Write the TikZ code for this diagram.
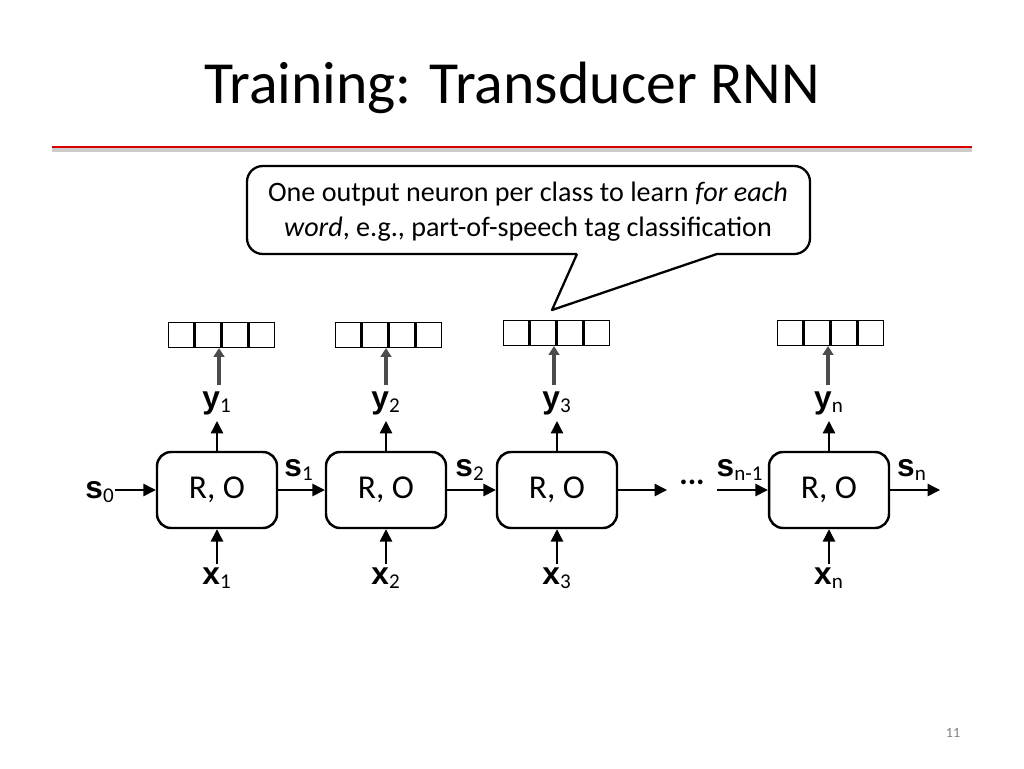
\documentclass[tikz,border=0pt]{standalone}
\usepackage{fontspec}
\setmainfont{Carlito}
\newfontfamily\labfont{Liberation Sans}
\usetikzlibrary{positioning,arrows.meta}

\tikzset{
  cell/.style={draw,line width=1.4pt,rounded corners=8pt,minimum width=2.4cm,minimum height=1.52cm,font=\fontsize{19}{22}\selectfont},
  vec/.style={draw,line width=0.8pt,minimum width=0.51cm,minimum height=0.5cm,inner sep=0pt},
  lab/.style={font=\labfont\bfseries\fontsize{18}{20}\selectfont,inner sep=1pt},
  arr/.style={-{Triangle[length=7pt,width=7pt]},line width=0.8pt},
  thickarr/.style={-{Triangle[length=5pt,width=6pt]},line width=2.2pt,gray!60!black}
}
\newcommand{\sub}[1]{\textsubscript{\normalfont\fontsize{12}{13}\selectfont #1}}

\begin{document}
\begin{tikzpicture}[x=0.02cm,y=-0.02cm]
	\useasboundingbox (0,0) rectangle (1024,768);
	
	%title
	\node (title) at (512,88) {\fontsize{34}{40}\selectfont Training: Transducer RNN};
	\draw[gray!40,line width=2pt] (52,150)--(972,150);
	\draw[red!85!black,line width=1.5pt] (52,147)--(972,147);
	
	%callout
	\draw[line width=1.3pt,line join=round] (577,254)--(552,310)--(717,254)
		[rounded corners=9pt]--(810,254)--(810,166)--(247,166)--(247,254)--(577,254);
	\node[align=center,font=\fontsize{16}{20}\selectfont] (callout) at (528,212) {One output neuron per class to learn \textit{for each}\\\textit{word}, e.g., part-of-speech tag classification};
	
	%cells
	\foreach \i/\x in {1/217,2/386,3/557,n/829}{
		\node[cell] (c\i) at (\x,490) {R, O};
		\node[lab] (y\i) at (\x,403) {y\sub{\i}};
		\node[lab] (x\i) at (\x,578) {x\sub{\i}};
		\coordinate (u\i) at (\x,421);
		\coordinate (w\i) at (\x,564);
		\draw[arr] (c\i.north) -- (u\i);
		\draw[arr] (w\i) -- (c\i.south);
	}
	
	%output vectors
	\foreach \i/\x/\t in {1/219/335,2/386/335,3/554/333,n/828/333}{
		\node[vec] (v\i1) at (\x-38,\t) {};
		\node[vec,right=0pt of v\i1] (v\i2) {};
		\node[vec,right=0pt of v\i2] (v\i3) {};
		\node[vec,right=0pt of v\i3] (v\i4) {};
		\coordinate (t\i) at (\x,385);
		\coordinate (h\i) at (\x,\t+13);
		\draw[thickarr] (t\i) -- (h\i);
	}
	
	%states
	\node[lab] (s0) at (100,492) {s\sub{0}};
	\node[lab] (s1) at (299,470) {s\sub{1}};
	\node[lab] (s2) at (470,470) {s\sub{2}};
	\node[lab] (sm) at (740,470) {s\sub{n-1}};
	\node[lab] (sn) at (912,470) {s\sub{n}};
	\node[font=\bfseries\fontsize{18}{18}\selectfont] (dots) at (692,482) {...};
	\coordinate (beg) at (115,490);
	\coordinate (end) at (940,490);
	\coordinate (mid) at (667,490);
	\coordinate (pre) at (717,490);
	\draw[arr] (beg) -- (c1);
	\draw[arr] (c1) -- (c2);
	\draw[arr] (c2) -- (c3);
	\draw[arr] (c3) -- (mid);
	\draw[arr] (pre) -- (cn);
	\draw[arr] (cn) -- (end);
	
	%page number
	\node[gray,font=\fontsize{8}{10}\selectfont] (page) at (953,733) {11};
\end{tikzpicture}
\end{document}
